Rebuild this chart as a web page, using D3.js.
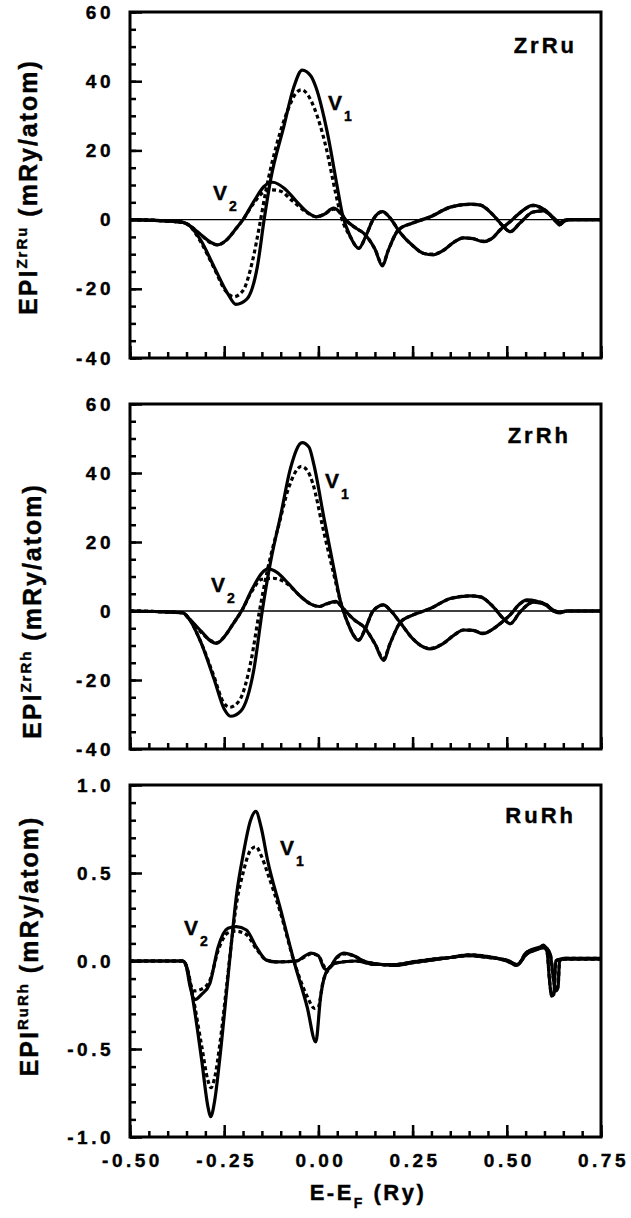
<!DOCTYPE html>
<html>
<head>
<meta charset="utf-8">
<script src="https://cdn.jsdelivr.net/npm/d3@7/dist/d3.min.js"></script>
<style>
  body { margin: 0; background: #fff; }
  text { font-family: "Liberation Sans", Arial, Helvetica, sans-serif; font-weight: bold; fill: #000; stroke: #000; stroke-width: 0.4px; }
</style>
</head>
<body>
<svg id="chart" width="631" height="1218"></svg>
<script>
// ---- data: [E-EF (Ry), EPI] ----
// ZrRu panel (mRy/atom)
var zrRuV1 = [[-0.50,0],[-0.42,-0.3],[-0.36,-0.8],[-0.345,-1.5],[-0.312,-6],[-0.277,-13.6],[-0.241,-21.3],[-0.219,-24.5],[-0.19,-23],[-0.162,-13.6],[-0.144,0],[-0.127,11.4],[-0.092,26.8],[-0.065,38.4],[-0.043,43.2],[-0.02,41.5],[-0.007,38.4],[0.024,25],[0.05,9.5],[0.063,1.9],[0.085,-5],[0.107,-8.3],[0.125,-5],[0.145,0],[0.17,2.3],[0.19,0.5],[0.215,-3.5],[0.25,-7.5],[0.28,-9.8],[0.305,-10.2],[0.33,-9],[0.36,-6.5],[0.385,-5.3],[0.41,-5.5],[0.437,-6.4],[0.46,-5.5],[0.482,-3],[0.51,-0.5],[0.535,2],[0.57,4.2],[0.59,3.5],[0.61,2],[0.63,-0.5],[0.64,-1.5],[0.655,-0.3],[0.67,0],[0.75,0]];
var zrRuV1Dash = [[-0.50,0],[-0.42,-0.3],[-0.36,-0.8],[-0.345,-1.5],[-0.312,-6.5],[-0.277,-14],[-0.245,-20.8],[-0.225,-22.3],[-0.2,-20.5],[-0.175,-12],[-0.155,-1],[-0.14,8],[-0.11,22],[-0.08,32],[-0.06,36.5],[-0.045,37.5],[-0.025,35.5],[-0.01,32],[0.02,21],[0.045,8],[0.06,1],[0.085,-5],[0.107,-8.3],[0.125,-5],[0.145,0],[0.17,2.3],[0.19,0.5],[0.215,-3.5],[0.25,-7.5],[0.28,-9.8],[0.305,-10],[0.33,-9],[0.36,-6.5],[0.385,-5.3],[0.41,-5.5],[0.437,-6.2],[0.46,-5.5],[0.482,-3],[0.51,-0.5],[0.535,2],[0.57,4],[0.59,3.5],[0.61,2],[0.63,-0.5],[0.64,-1.5],[0.655,-0.3],[0.67,0],[0.75,0]];
var zrRuV2 = [[-0.50,0],[-0.42,-0.3],[-0.36,-0.8],[-0.345,-1.5],[-0.31,-4.5],[-0.285,-6.6],[-0.267,-7.3],[-0.245,-6],[-0.22,-2.8],[-0.2,0],[-0.17,5.5],[-0.145,9.5],[-0.121,10.8],[-0.09,9],[-0.06,5.5],[-0.03,2.2],[-0.005,0.8],[0.015,1.5],[0.04,3.3],[0.058,2],[0.072,0],[0.1,-2.5],[0.12,-3.9],[0.15,-8.5],[0.17,-13.4],[0.185,-9],[0.212,-3],[0.25,-1],[0.297,0.8],[0.35,3.6],[0.403,4.5],[0.43,4.2],[0.464,1.3],[0.491,-2],[0.509,-3.5],[0.535,-1],[0.57,2.2],[0.597,2.5],[0.624,0.5],[0.64,-0.8],[0.66,0],[0.75,0]];
var zrRuV2Dash = [[-0.50,0],[-0.42,-0.3],[-0.36,-0.8],[-0.345,-1.5],[-0.31,-4.6],[-0.285,-6.8],[-0.267,-7.3],[-0.245,-6],[-0.22,-2.8],[-0.2,0],[-0.17,5],[-0.145,8],[-0.125,8.6],[-0.1,8.2],[-0.07,5.5],[-0.03,2],[-0.005,0.8],[0.015,1.5],[0.04,3],[0.058,2],[0.072,0],[0.1,-2.5],[0.12,-3.9],[0.15,-8.5],[0.17,-13],[0.185,-9],[0.212,-3],[0.25,-1],[0.297,0.8],[0.35,3.6],[0.403,4.4],[0.43,4.2],[0.464,1.3],[0.491,-2],[0.509,-3.5],[0.535,-1],[0.57,2.2],[0.597,2.5],[0.624,0.5],[0.64,-0.8],[0.66,0],[0.75,0]];

// ZrRh panel (mRy/atom)
var zrRhV1 = [[-0.50,0],[-0.42,-0.2],[-0.36,-0.5],[-0.345,-2],[-0.312,-9],[-0.277,-19.7],[-0.25,-28.4],[-0.233,-30.5],[-0.206,-29],[-0.171,-16.8],[-0.149,0],[-0.127,14.2],[-0.1,27.8],[-0.074,41.4],[-0.043,48.8],[-0.025,47.5],[-0.012,42.4],[0.015,26.8],[0.041,12.3],[0.059,2.6],[0.077,-3.2],[0.107,-8.5],[0.125,-5],[0.145,0],[0.173,1.8],[0.19,0.3],[0.218,-3.5],[0.25,-8],[0.28,-10.5],[0.297,-11],[0.33,-9.5],[0.36,-7],[0.385,-5.5],[0.41,-5.6],[0.437,-6.6],[0.46,-5.5],[0.482,-3.7],[0.51,-1],[0.535,2.1],[0.553,3.2],[0.58,2.8],[0.607,1.7],[0.624,0],[0.64,-0.5],[0.66,0],[0.75,0]];
var zrRhV1Dash = [[-0.50,0],[-0.42,-0.2],[-0.36,-0.5],[-0.345,-2],[-0.312,-9],[-0.277,-19],[-0.252,-26.5],[-0.235,-27.9],[-0.21,-26],[-0.178,-14],[-0.158,-1],[-0.135,12],[-0.105,25],[-0.078,36],[-0.045,41.9],[-0.028,40.5],[-0.015,37],[0.012,24],[0.04,11],[0.059,2.6],[0.077,-3.2],[0.107,-8.3],[0.125,-5],[0.145,0],[0.173,1.8],[0.19,0.3],[0.218,-3.5],[0.25,-8],[0.28,-10.5],[0.297,-10.8],[0.33,-9.5],[0.36,-7],[0.385,-5.5],[0.41,-5.6],[0.437,-6.4],[0.46,-5.5],[0.482,-3.7],[0.51,-1],[0.535,2.1],[0.553,3],[0.58,2.8],[0.607,1.7],[0.624,0],[0.64,-0.5],[0.66,0],[0.75,0]];
var zrRhV2 = [[-0.50,0],[-0.42,-0.2],[-0.36,-0.5],[-0.345,-2],[-0.31,-6],[-0.285,-8.8],[-0.27,-9.4],[-0.25,-7.5],[-0.225,-3.5],[-0.204,0],[-0.175,6.5],[-0.15,11],[-0.134,12.2],[-0.11,11.2],[-0.08,8],[-0.05,4.5],[-0.02,2],[0.003,1.3],[0.02,2],[0.046,2.8],[0.06,1.5],[0.072,0],[0.1,-3],[0.12,-4.5],[0.15,-9.5],[0.173,-14.3],[0.19,-9.5],[0.218,-3.2],[0.25,-1.2],[0.297,0.7],[0.35,3.6],[0.403,4.4],[0.43,4.1],[0.464,1.2],[0.491,-2.2],[0.509,-3.7],[0.535,-0.3],[0.57,2.6],[0.597,2.1],[0.624,0.2],[0.64,-0.3],[0.66,0],[0.75,0]];
var zrRhV2Dash = [[-0.50,0],[-0.42,-0.2],[-0.36,-0.5],[-0.345,-2],[-0.31,-6.3],[-0.285,-8.6],[-0.27,-9.2],[-0.25,-7.5],[-0.225,-3.5],[-0.204,0],[-0.175,6],[-0.15,9.2],[-0.12,9.5],[-0.1,9],[-0.075,7.2],[-0.05,4.5],[-0.02,2],[0.003,1.3],[0.02,2],[0.046,2.6],[0.06,1.5],[0.072,0],[0.1,-3],[0.12,-4.5],[0.15,-9.5],[0.173,-13.8],[0.19,-9.5],[0.218,-3.2],[0.25,-1.2],[0.297,0.7],[0.35,3.6],[0.403,4.4],[0.43,4.1],[0.464,1.2],[0.491,-2.2],[0.509,-3.7],[0.535,-0.3],[0.57,2.6],[0.597,2.1],[0.624,0.2],[0.64,-0.3],[0.66,0],[0.75,0]];

// RuRh panel (mRy/atom)
var ruRhV1 = [[-0.50,0],[-0.36,0],[-0.35,-0.03],[-0.333,-0.22],[-0.31,-0.56],[-0.293,-0.83],[-0.286,-0.885],[-0.275,-0.79],[-0.262,-0.56],[-0.244,-0.18],[-0.231,0.1],[-0.217,0.38],[-0.2,0.6],[-0.18,0.8],[-0.166,0.85],[-0.152,0.76],[-0.135,0.574],[-0.1,0.29],[-0.065,0],[-0.03,-0.26],[-0.007,-0.46],[0.006,-0.2],[0.024,-0.05],[0.05,-0.01],[0.1,0],[0.15,-0.02],[0.2,-0.02],[0.25,-0.005],[0.3,0.01],[0.35,0.02],[0.4,0.03],[0.45,0.02],[0.5,0.005],[0.527,-0.02],[0.553,0.04],[0.585,0.07],[0.597,0.09],[0.607,0.05],[0.613,-0.1],[0.619,-0.2],[0.625,-0.19],[0.63,0],[0.64,0.01],[0.75,0.01]];
var ruRhV1Dash = [[-0.50,0],[-0.36,0],[-0.35,-0.03],[-0.333,-0.2],[-0.31,-0.48],[-0.293,-0.68],[-0.285,-0.72],[-0.275,-0.66],[-0.262,-0.48],[-0.244,-0.15],[-0.231,0.1],[-0.217,0.33],[-0.2,0.5],[-0.18,0.63],[-0.166,0.65],[-0.152,0.6],[-0.135,0.5],[-0.1,0.27],[-0.065,0],[-0.03,-0.2],[-0.01,-0.27],[0.0,-0.26],[0.012,-0.12],[0.03,-0.04],[0.05,-0.01],[0.1,0],[0.15,-0.02],[0.2,-0.02],[0.25,-0.005],[0.3,0.01],[0.35,0.02],[0.4,0.03],[0.45,0.02],[0.5,0.005],[0.527,-0.02],[0.553,0.04],[0.585,0.07],[0.597,0.08],[0.607,0.05],[0.613,-0.1],[0.619,-0.19],[0.625,-0.18],[0.63,0],[0.64,0.01],[0.75,0.01]];
var ruRhV2 = [[-0.50,0],[-0.36,0],[-0.352,-0.02],[-0.34,-0.15],[-0.328,-0.22],[-0.31,-0.19],[-0.288,-0.127],[-0.266,0.08],[-0.24,0.186],[-0.218,0.195],[-0.191,0.176],[-0.165,0.08],[-0.138,0.005],[-0.112,-0.005],[-0.058,0],[-0.035,0.03],[-0.02,0.045],[0.0,0.03],[0.015,-0.04],[0.024,-0.05],[0.05,0.025],[0.068,0.045],[0.094,0.03],[0.12,0],[0.15,-0.015],[0.2,-0.025],[0.25,-0.01],[0.3,0.005],[0.35,0.02],[0.4,0.035],[0.45,0.025],[0.5,0],[0.527,-0.025],[0.553,0.05],[0.6,0.08],[0.615,0.04],[0.625,-0.12],[0.63,-0.17],[0.636,-0.15],[0.64,0],[0.65,0.015],[0.75,0.015]];
var ruRhV2Dash = [[-0.50,0],[-0.36,0],[-0.352,-0.02],[-0.34,-0.13],[-0.33,-0.17],[-0.31,-0.16],[-0.288,-0.11],[-0.266,0.06],[-0.24,0.16],[-0.22,0.17],[-0.191,0.15],[-0.165,0.07],[-0.138,0.005],[-0.112,-0.005],[-0.058,0],[-0.035,0.025],[-0.02,0.04],[0.0,0.03],[0.015,-0.03],[0.024,-0.045],[0.05,0.02],[0.068,0.04],[0.094,0.03],[0.12,0],[0.15,-0.015],[0.2,-0.025],[0.25,-0.01],[0.3,0.005],[0.35,0.02],[0.4,0.035],[0.45,0.025],[0.5,0],[0.527,-0.025],[0.553,0.05],[0.6,0.075],[0.615,0.04],[0.625,-0.12],[0.63,-0.16],[0.636,-0.14],[0.64,0],[0.65,0.015],[0.75,0.015]];

// ---- axis ticks ----
var xDomain = [-0.5, 0.75];
var xMajorTicks = [-0.5, -0.25, 0, 0.25, 0.5, 0.75];
var xMinorStep = 0.05;
var mryMajorTicks = [-40, -20, 0, 20, 40, 60];
var ruRhMajorTicks = [-1, -0.5, 0, 0.5, 1];

var svg = d3.select("#chart");
var left = 130, right = 601;

var x = d3.scaleLinear().domain(xDomain).range([left, right]);
var xMinor = d3.range(Math.round((xDomain[1] - xDomain[0]) / xMinorStep) + 1)
               .map(function(i){ return xDomain[0] + i * xMinorStep; });

function dashMinus(s){ return s.replace("\u2212", "-"); }

var panels = [
  {top: 12, bottom: 358, domain: [-40, 60], major: mryMajorTicks, minorStep: 5,
   fmt: function(d){ return dashMinus(d3.format("d")(d)); },
   v1: zrRuV1, v1d: zrRuV1Dash, v2: zrRuV2, v2d: zrRuV2Dash,
   name: "ZrRu", nameX: 577, nameY: 53, sup: "ZrRu", titleX: 37, titleY: 187,
   lab1: [328, 110], lab2: [213, 200], zeroLine: true, xLabels: false},
  {top: 404, bottom: 749, domain: [-40, 60], major: mryMajorTicks, minorStep: 5,
   fmt: function(d){ return dashMinus(d3.format("d")(d)); },
   v1: zrRhV1, v1d: zrRhV1Dash, v2: zrRhV2, v2d: zrRhV2Dash,
   name: "ZrRh", nameX: 571, nameY: 443, sup: "ZrRh", titleX: 41, titleY: 611,
   lab1: [325, 488], lab2: [211, 592], zeroLine: true, xLabels: false},
  {top: 785, bottom: 1137, domain: [-1, 1], major: ruRhMajorTicks, minorStep: 0.1,
   fmt: function(d){ return dashMinus(d3.format(".1f")(d)); },
   v1: ruRhV1, v1d: ruRhV1Dash, v2: ruRhV2, v2d: ruRhV2Dash,
   name: "RuRh", nameX: 576, nameY: 823, sup: "RuRh", titleX: 38, titleY: 946,
   lab1: [280, 855], lab2: [184, 935], zeroLine: false, xLabels: true}
];

panels.forEach(function(p){
  var y = d3.scaleLinear().domain(p.domain).range([p.bottom, p.top]);
  var n = Math.round((p.domain[1] - p.domain[0]) / p.minorStep);
  var yMinor = d3.range(n + 1).map(function(i){ return p.domain[0] + i * p.minorStep; });
  var g = svg.append("g");

  // minor + major ticks, pointing inward
  g.append("g").attr("transform", "translate(0," + p.bottom + ")")
    .call(d3.axisBottom(x).tickValues(xMinor).tickSizeInner(-6).tickSizeOuter(0).tickFormat(""))
    .call(function(a){ a.select(".domain").remove(); a.selectAll("line").attr("stroke-width", 2.5); });
  var xa = g.append("g").attr("transform", "translate(0," + p.bottom + ")")
    .call(d3.axisBottom(x).tickValues(xMajorTicks).tickSizeInner(-12).tickSizeOuter(0).tickPadding(17)
      .tickFormat(p.xLabels ? function(d){ return dashMinus(d3.format(".2f")(d)); } : ""));
  xa.select(".domain").remove();
  xa.selectAll("line").attr("stroke-width", 2.5);
  xa.selectAll("text").attr("font-size", 19).style("letter-spacing", "3.5px").attr("dx", "2px")
    .style("font-family", '"Liberation Sans", Arial, sans-serif').style("font-weight", "bold");

  g.append("g").attr("transform", "translate(" + left + ",0)")
    .call(d3.axisLeft(y).tickValues(yMinor).tickSizeInner(-6).tickSizeOuter(0).tickFormat(""))
    .call(function(a){ a.select(".domain").remove(); a.selectAll("line").attr("stroke-width", 2.5); });
  var ya = g.append("g").attr("transform", "translate(" + left + ",0)")
    .call(d3.axisLeft(y).tickValues(p.major).tickSizeInner(-12).tickSizeOuter(0).tickPadding(16).tickFormat(p.fmt));
  ya.select(".domain").remove();
  ya.selectAll("line").attr("stroke-width", 2.5);
  ya.selectAll("text").attr("font-size", 19).style("letter-spacing", "3.5px")
    .style("font-family", '"Liberation Sans", Arial, sans-serif').style("font-weight", "bold");

  // zero reference line
  if (p.zeroLine) {
    g.append("line").attr("x1", left).attr("x2", right).attr("y1", y(0)).attr("y2", y(0))
      .attr("stroke", "#000").attr("stroke-width", 1.4);
  }

  var line = d3.line().x(function(d){ return x(d[0]); }).y(function(d){ return y(d[1]); })
               .curve(d3.curveMonotoneX);

  [p.v1d, p.v2d].forEach(function(s){
    g.append("path").attr("d", line(s)).attr("fill", "none").attr("stroke", "#000")
      .attr("stroke-width", 3.2).attr("stroke-dasharray", "4,3");
  });
  [p.v1, p.v2].forEach(function(s){
    g.append("path").attr("d", line(s)).attr("fill", "none").attr("stroke", "#000")
      .attr("stroke-width", 3.2).attr("stroke-linejoin", "round");
  });

  // frame
  g.append("rect").attr("x", left).attr("y", p.top).attr("width", right - left).attr("height", p.bottom - p.top)
    .attr("fill", "none").attr("stroke", "#000").attr("stroke-width", 3);

  // panel name
  g.append("text").attr("x", p.nameX).attr("y", p.nameY).attr("text-anchor", "end")
    .attr("font-size", 22).style("letter-spacing", "3px").text(p.name);

  // V1 / V2 labels
  [[p.lab1, "1"], [p.lab2, "2"]].forEach(function(l){
    var t = g.append("text").attr("x", l[0][0]).attr("y", l[0][1]).attr("font-size", 21);
    t.append("tspan").text("V");
    t.append("tspan").attr("dx", 2).attr("dy", 11).attr("font-size", 14).text(l[1]);
  });

  // y-axis title
  var tt = g.append("text").attr("transform", "translate(" + p.titleX + "," + p.titleY + ") rotate(-90)")
    .attr("text-anchor", "middle").attr("font-size", 25).style("letter-spacing", "2px");
  tt.append("tspan").text("EPI");
  tt.append("tspan").attr("dy", -10).attr("font-size", 15).text(p.sup);
  tt.append("tspan").attr("dy", 10).text(" (mRy/atom)");
});

// x-axis title
var xt = svg.append("text").attr("x", 368).attr("y", 1200).attr("text-anchor", "middle")
  .attr("font-size", 22).style("letter-spacing", "2.5px");
xt.append("tspan").text("E-E");
xt.append("tspan").attr("dy", 8).attr("font-size", 14).text("F");
xt.append("tspan").attr("dy", -8).text(" (Ry)");
</script>
</body>
</html>
